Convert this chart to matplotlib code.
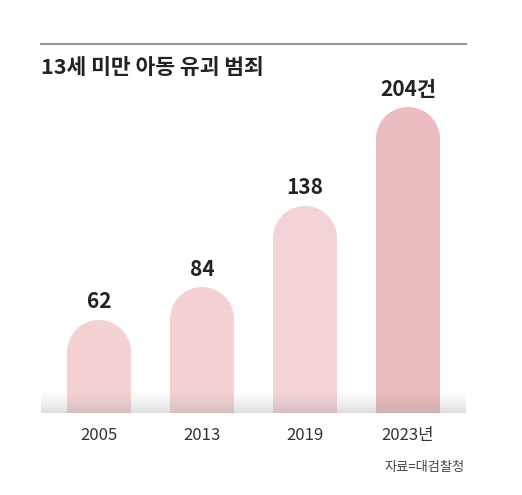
import matplotlib.pyplot as plt
import numpy as np
from matplotlib.patches import Rectangle, Ellipse

## data
years = ["2005", "2013", "2019", "2023년"]
counts = [62, 84, 138, 204]
labels = ["62", "84", "138", "204건"]
bar_colors = ["#f4d2d4", "#f4d2d4", "#f4d3d6", "#ebbcc0"]

title = "13세 미만 아동 유괴 범죄"
source = "자료=대검찰청"

fam_kr = ["Noto Sans CJK KR", "DejaVu Sans"]

W, H = 522, 495
fig = plt.figure(figsize=(W / 100, H / 100), dpi=100)
fig.patch.set_facecolor("white")

# axes placed in pixels: x 41..466, y 44..413 (bottom = 0), 1.5 px per unit
left, right, top, bottom = 41, 466, 44, 413
ax = fig.add_axes([left / W, 1 - bottom / H, (right - left) / W, (bottom - top) / H])
ax.set_xlim(-0.563, 3.563)
ax.set_ylim(0, (bottom - top) / 1.5)
ax.axis("off")

px_x = (right - left) / 4.126  # px per x unit
px_y = 1.5
bw = 64 / px_x
r_y = 32 / px_y  # radius of rounded top in y units

for i, (v, c) in enumerate(zip(counts, bar_colors)):
    ax.add_patch(Rectangle((i - bw / 2, 0), bw, v - r_y, color=c, lw=0, zorder=2))
    ax.add_patch(Ellipse((i, v - r_y), bw, 2 * r_y, color=c, lw=0, zorder=2))
    ax.text(i, v + 5, labels[i], ha="center", va="bottom", fontsize=15,
            family=fam_kr, fontweight="bold", color="#222222", zorder=4)

# grey shadow band at the bottom
band_top = 23 / px_y
grad = np.linspace(0, 1, 50).reshape(-1, 1)
rgba = np.zeros((50, 1, 4))
rgba[..., :3] = 0.55
rgba[..., 3] = (grad ** 1.3) * 0.28
ax.imshow(rgba, extent=(-0.563, 3.563, 0, band_top), aspect="auto",
          origin="upper", zorder=3, interpolation="bilinear")

# top rule
fig.add_artist(plt.Line2D([left / W, right / W], [1 - top / H, 1 - top / H],
                          color="#9a9a9a", lw=1.5))
fig.text(left / W, 1 - 68 / H, title, ha="left", va="center", fontsize=15.5,
         family=fam_kr, fontweight="bold", color="#222222")

for i, y in enumerate(years):
    ax.text(i, -15, y, ha="center", va="center", fontsize=12,
            family=fam_kr, color="#333333")

fig.text(465 / W, 1 - 468 / H, source, ha="right", va="center", fontsize=9.5,
         family=fam_kr, color="#444444")

fig.savefig("out.png", dpi=100)
